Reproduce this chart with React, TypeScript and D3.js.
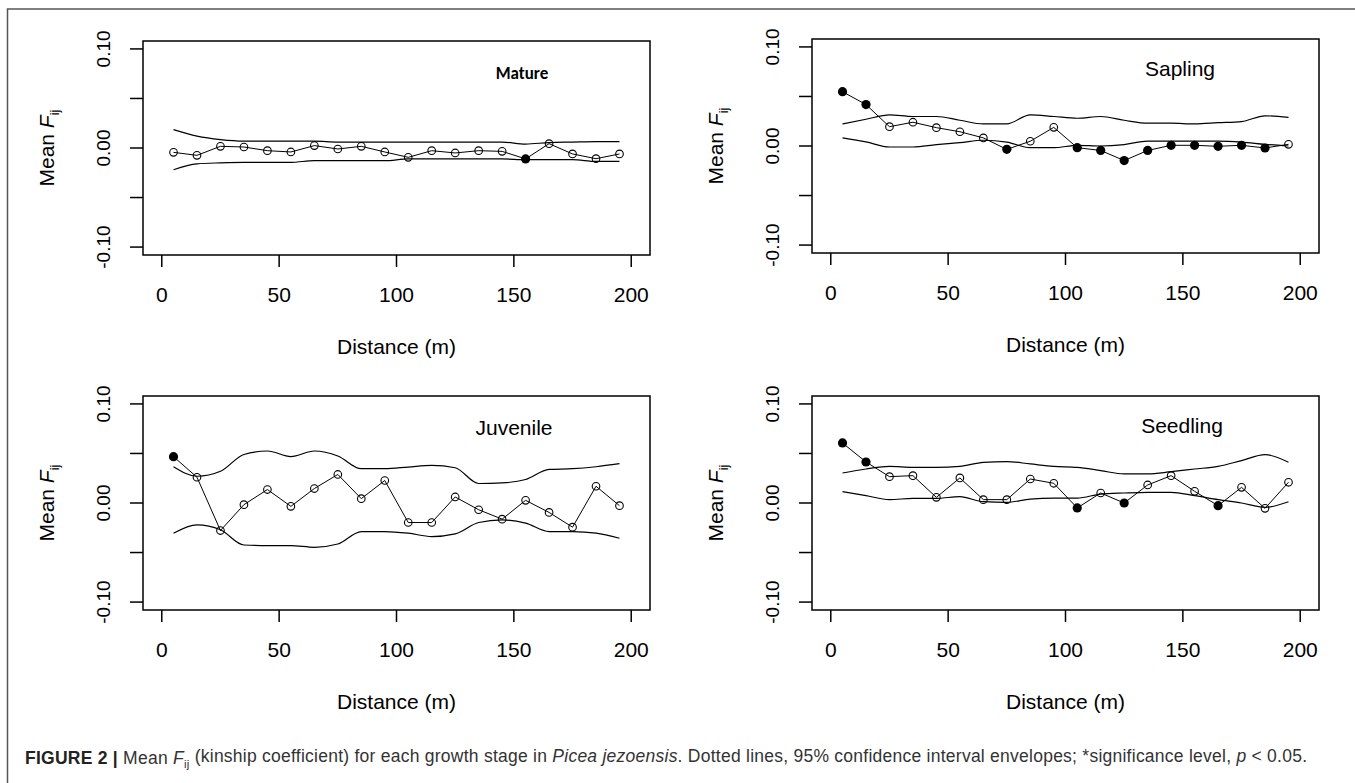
import React from "react";
import * as d3 from "d3";

// distance classes (m)
const distances = [5, 15, 25, 35, 45, 55, 65, 75, 85, 95, 105, 115, 125, 135, 145, 155, 165, 175, 185, 195];
const xTicks = [0, 50, 100, 150, 200];
const yTicks = [-0.1, -0.05, 0, 0.05, 0.1];
const yTickLabels = ["-0.10", "", "0.00", "", "0.10"];

const matureMean = [-0.0044, -0.0074, 0.0017, 0.001, -0.0027, -0.004, 0.0024, -0.001, 0.0017, -0.004, -0.0094, -0.0027, -0.005, -0.0027, -0.0034, -0.011, 0.0044, -0.006, -0.0108, -0.006];
const matureUpper = [0.0185, 0.012, 0.0085, 0.007, 0.007, 0.007, 0.007, 0.006, 0.006, 0.006, 0.006, 0.006, 0.006, 0.006, 0.006, 0.004, 0.0055, 0.006, 0.0065, 0.0065];
const matureLower = [-0.022, -0.016, -0.015, -0.0145, -0.0145, -0.0145, -0.0128, -0.0128, -0.0128, -0.0128, -0.011, -0.011, -0.011, -0.011, -0.011, -0.0118, -0.0118, -0.0118, -0.0135, -0.0135];
const matureSig = [155];

const saplingMean = [0.0548, 0.0418, 0.0195, 0.024, 0.0185, 0.0144, 0.0082, -0.0034, 0.0048, 0.0188, -0.0017, -0.0045, -0.0147, -0.0045, 0.0007, 0.0007, -0.0003, 0.0007, -0.002, 0.0017];
const saplingUpper = [0.0223, 0.027, 0.0315, 0.0298, 0.0298, 0.026, 0.0223, 0.0223, 0.0315, 0.0298, 0.028, 0.0298, 0.026, 0.023, 0.023, 0.0223, 0.0235, 0.0247, 0.0305, 0.0288];
const saplingLower = [0.0082, 0.0041, -0.001, -0.001, 0.0014, 0.0034, 0.0058, 0.004, -0.0017, -0.0017, 0.0007, 0.0, 0.0014, 0.005, 0.005, 0.005, 0.005, 0.004, 0.0017, 0.0];
const saplingSig = [5, 15, 75, 105, 115, 125, 135, 145, 155, 165, 175, 185];

const juvenileMean = [0.0468, 0.026, -0.0278, -0.0017, 0.0136, -0.0034, 0.0146, 0.0288, 0.0044, 0.0227, -0.0197, -0.0197, 0.0061, -0.0068, -0.0163, 0.0027, -0.0095, -0.0244, 0.0169, -0.0027];
const juvenileUpper = [0.0366, 0.027, 0.032, 0.049, 0.0525, 0.0468, 0.0525, 0.0475, 0.0346, 0.0346, 0.0363, 0.038, 0.0356, 0.0197, 0.0203, 0.0237, 0.0339, 0.0346, 0.0366, 0.0397];
const juvenileLower = [-0.0305, -0.022, -0.027, -0.0424, -0.043, -0.043, -0.0447, -0.0414, -0.0288, -0.0288, -0.0305, -0.0339, -0.0312, -0.0197, -0.017, -0.0203, -0.0288, -0.0288, -0.0305, -0.0356];
const juvenileSig = [5];

const seedlingMean = [0.0606, 0.0414, 0.0266, 0.0276, 0.0057, 0.0253, 0.0034, 0.0034, 0.0242, 0.0199, -0.005, 0.0101, 0.0, 0.0182, 0.0276, 0.0118, -0.0027, 0.0158, -0.0054, 0.0209];
const seedlingUpper = [0.0303, 0.0343, 0.037, 0.036, 0.036, 0.037, 0.0411, 0.0418, 0.0394, 0.037, 0.036, 0.0327, 0.0293, 0.0293, 0.0316, 0.0343, 0.037, 0.0428, 0.0488, 0.0411];
const seedlingLower = [0.0114, 0.0074, 0.0034, 0.0047, 0.0047, 0.0064, 0.0013, 0.0007, 0.004, 0.005, 0.005, 0.009, 0.0101, 0.0108, 0.0108, 0.0074, 0.0034, 0.0, -0.0044, 0.0013];
const seedlingSig = [5, 15, 105, 125, 165];

const W = 507;
const H = 214;
const FONT = "'Liberation Sans', Arial, Helvetica, sans-serif";

const panels = [
  { name: "Mature", bold: true, left: 143, top: 41, lx: 379, ly: 32, mean: matureMean, upper: matureUpper, lower: matureLower, sig: matureSig },
  { name: "Sapling", bold: false, left: 812, top: 39, lx: 368, ly: 30, mean: saplingMean, upper: saplingUpper, lower: saplingLower, sig: saplingSig },
  { name: "Juvenile", bold: false, left: 143, top: 396, lx: 371, ly: 32, mean: juvenileMean, upper: juvenileUpper, lower: juvenileLower, sig: juvenileSig },
  { name: "Seedling", bold: false, left: 812, top: 396, lx: 370, ly: 30, mean: seedlingMean, upper: seedlingUpper, lower: seedlingLower, sig: seedlingSig },
];

function Panel({ p }: { p: typeof panels[number] }) {
  const x = d3.scaleLinear().domain([-8, 208]).range([0, W]);
  const y = d3.scaleLinear().domain([-0.108, 0.108]).range([H, 0]);
  const env = d3.line<number>().x((_, i) => x(distances[i])).y(d => y(d)).curve(d3.curveMonotoneX);
  const meanLine = d3.line<number>().x((_, i) => x(distances[i])).y(d => y(d));

  return (
    <g transform={`translate(${p.left},${p.top})`}>
      <rect x={0} y={0} width={W} height={H} fill="none" stroke="#000" strokeWidth={1.5} />
      {xTicks.map(t => (
        <g key={t} transform={`translate(${x(t)},0)`}>
          <line y1={H} y2={H + 12} stroke="#000" strokeWidth={1.5} />
          <text y={H + 40} dy="0.35em" textAnchor="middle" fontSize={21}>{t}</text>
        </g>
      ))}
      {yTicks.map((t, i) => (
        <g key={t} transform={`translate(0,${y(t)})`}>
          <line x1={-13} x2={0} stroke="#000" strokeWidth={1.5} />
          {yTickLabels[i] && (
            <text transform="translate(-40,0) rotate(-90)" dy="0.35em" textAnchor="middle" fontSize={19}>{yTickLabels[i]}</text>
          )}
        </g>
      ))}
      <text transform={`translate(-96,${H / 2}) rotate(-90)`} dy="0.35em" textAnchor="middle" fontSize={21}>
        Mean <tspan fontStyle="italic">F</tspan><tspan fontSize={13} dy="0.35em">ij</tspan>
      </text>
      <text x={W / 2} y={H + 92} dy="0.35em" textAnchor="middle" fontSize={21}>Distance (m)</text>
      <text x={p.lx} y={p.ly} dy="0.35em" textAnchor="middle" fontSize={p.bold ? 17 : 21} fontWeight={p.bold ? "bold" : "normal"}
        fontFamily={p.bold ? "Carlito, Calibri, 'Liberation Sans', Arial, sans-serif" : undefined}>
        {p.name}
      </text>
      <path d={env(p.upper) ?? ""} fill="none" stroke="#000" strokeWidth={1.2} />
      <path d={env(p.lower) ?? ""} fill="none" stroke="#000" strokeWidth={1.2} />
      {distances.map((d, i) =>
        p.sig.includes(d) ? null : (
          <circle key={d} cx={x(d)} cy={y(p.mean[i])} r={3.8} fill="none" stroke="#000" strokeWidth={1.1} />
        )
      )}
      <path d={meanLine(p.mean) ?? ""} fill="none" stroke="#000" strokeWidth={1} />
      {distances.map((d, i) =>
        p.sig.includes(d) ? <circle key={d} cx={x(d)} cy={y(p.mean[i])} r={4.6} fill="#000" /> : null
      )}
    </g>
  );
}

export default function App() {
  return (
    <svg width={1355} height={783} style={{ position: "absolute", left: 0, top: 0, background: "#fff" }} fontFamily={FONT}>
      <rect x={0} y={0} width={1355} height={783} fill="#fff" />
      <path d="M7.5,783 V9 H1355" fill="none" stroke="#555" strokeWidth={1.5} />
      {panels.map(p => <Panel key={p.name} p={p} />)}
      <text x={25} y={758} dy="0.35em" fontSize={17.5} fill="#333" textLength={1282} lengthAdjust="spacing">
        <tspan fontWeight="bold" fill="#222">FIGURE 2 |</tspan> Mean <tspan fontStyle="italic" fill="#333">F</tspan>
        <tspan fontSize={11.5} dy="0.3em" fill="#333">ij</tspan>
        <tspan dy="-0.3em"> (kinship coefficient) for each growth stage in </tspan>
        <tspan fontStyle="italic">Picea jezoensis</tspan>. Dotted lines, 95% confidence interval envelopes; *significance level,{" "}
        <tspan fontStyle="italic">p</tspan> &lt; 0.05.
      </text>
    </svg>
  );
}
